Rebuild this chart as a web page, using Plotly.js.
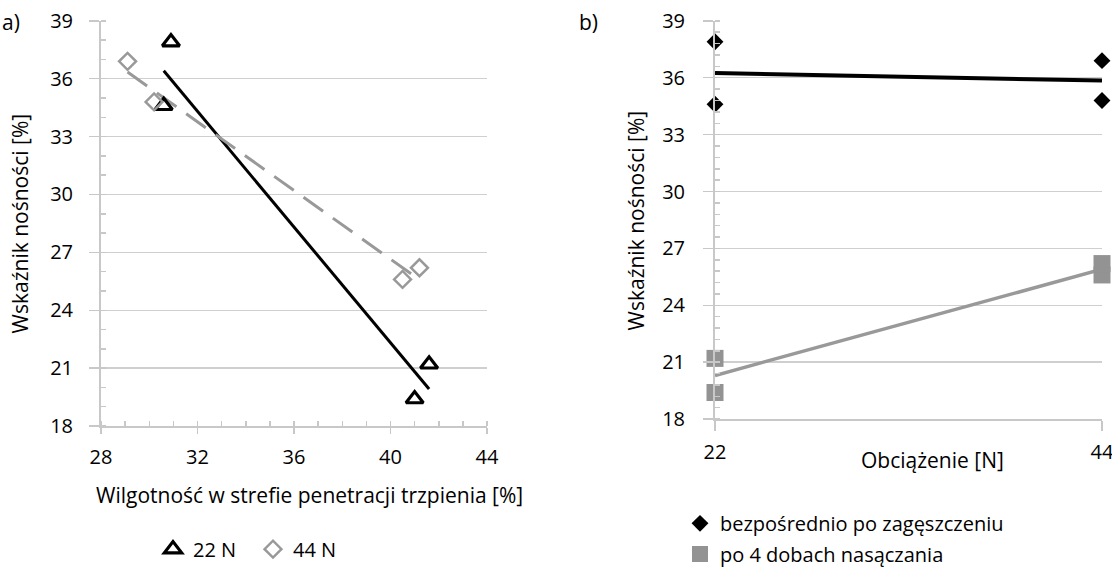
<!DOCTYPE html>
<html>
<head>
<meta charset="utf-8">
<script src="https://cdn.plot.ly/plotly-3.0.1.min.js"></script>
<style>html,body{margin:0;padding:0;background:#fff}#chart{width:1112px;height:574px}</style>
</head>
<body>
<div id="chart"></div>
<script>
// ---- Data ----
// Panel a): CBR vs moisture in the penetration zone
const moisture22 = [30.9, 30.6, 41.6, 41.0];
const cbr22 = [37.9, 34.6, 21.2, 19.4];
const moisture44 = [29.1, 30.2, 40.5, 41.2];
const cbr44 = [36.9, 34.8, 25.6, 26.2];
// Panel b): CBR vs load
const load = [22, 22, 44, 44];
const cbrDirect = [37.9, 34.6, 36.9, 34.8];
const cbrSoaked = [21.2, 19.4, 25.6, 26.2];
const loadTicks = [22, 44];

const labelA = 'a)', labelB = 'b)';
const yTitle = 'Wskaźnik nośności [%]';
const xTitleA = 'Wilgotność w strefie penetracji trzpienia [%]';
const xTitleB = 'Obciążenie [N]';
const name22 = '22 N', name44 = '44 N';
const nameDirect = 'bezpośrednio po zagęszczeniu';
const nameSoaked = 'po 4 dobach nasączania';

// least squares linear trendline over data extent
function trend(x, y) {
  const n = x.length;
  const mx = x.reduce((a, b) => a + b, 0) / n;
  const my = y.reduce((a, b) => a + b, 0) / n;
  let sxy = 0, sxx = 0;
  for (let i = 0; i < n; i++) { sxy += (x[i] - mx) * (y[i] - my); sxx += (x[i] - mx) ** 2; }
  const b = sxy / sxx, a = my - b * mx;
  const x0 = Math.min(...x), x1 = Math.max(...x);
  return { x: [x0, x1], y: [a + b * x0, a + b * x1] };
}

const W = 1112, H = 574;
const px = v => v / W, py = v => 1 - v / H;

const FONT = 'Open Sans, Noto Sans, sans-serif';
const GRID = '#cfcfcf';
const GRAY = '#999999';
const SQ = '#939393';
const TICK = 20, TITLE = 21, LEG = 20;

const t22 = trend(moisture22, cbr22);
const t44 = trend(moisture44, cbr44);
const tD = trend(load, cbrDirect);
const tS = trend(load, cbrSoaked);

const traces = [
  { x: t22.x, y: t22.y, xaxis: 'x', yaxis: 'y', mode: 'lines', line: { color: '#000', width: 3 }, showlegend: false, hoverinfo: 'skip' },
  { x: t44.x, y: t44.y, xaxis: 'x', yaxis: 'y', mode: 'lines', line: { color: GRAY, width: 3, dash: '24px,12px' }, showlegend: false, hoverinfo: 'skip' },
  { x: moisture22, y: cbr22, xaxis: 'x', yaxis: 'y', mode: 'markers', name: name22, legend: 'legend',
    marker: { symbol: 'triangle-up-open', size: 15, color: '#000', line: { color: '#000', width: 3.2 } }, cliponaxis: false },
  { x: moisture44, y: cbr44, xaxis: 'x', yaxis: 'y', mode: 'markers', name: name44, legend: 'legend4',
    marker: { symbol: 'diamond-open', size: 13, color: GRAY, line: { color: GRAY, width: 2.5 } }, cliponaxis: false },

  { x: tD.x, y: tD.y, xaxis: 'x2', yaxis: 'y2', mode: 'lines', line: { color: '#000', width: 4 }, showlegend: false, hoverinfo: 'skip' },
  { x: tS.x, y: tS.y, xaxis: 'x2', yaxis: 'y2', mode: 'lines', line: { color: GRAY, width: 3.5 }, showlegend: false, hoverinfo: 'skip' },
  { x: load, y: cbrDirect, xaxis: 'x2', yaxis: 'y2', mode: 'markers', name: nameDirect, legend: 'legend2',
    marker: { symbol: 'diamond', size: 13, color: '#000' }, cliponaxis: false },
  { x: load, y: cbrSoaked, xaxis: 'x2', yaxis: 'y2', mode: 'markers', name: nameSoaked, legend: 'legend3',
    marker: { symbol: 'square', size: 17, color: SQ }, cliponaxis: false }
];

const axisCommon = {
  showline: true, linecolor: '#c8c8c8', linewidth: 2, zeroline: false,
  tickcolor: '#c8c8c8', tickwidth: 1.5, ticklabeloverflow: 'allow',
  tickfont: { family: FONT, size: TICK, color: '#000' }
};

const legendCommon = {
  bgcolor: 'rgba(0,0,0,0)', borderwidth: 0, font: { family: FONT, size: LEG, color: '#000' },
  xanchor: 'left', yanchor: 'middle', orientation: 'h', itemclick: false, itemdoubleclick: false
};

const layout = {
  width: W, height: H,
  margin: { l: 0, r: 0, t: 0, b: 0 },
  paper_bgcolor: '#fff', plot_bgcolor: '#fff',
  font: { family: FONT, size: TITLE, color: '#000' },
  xaxis: Object.assign({}, axisCommon, {
    domain: [px(101), px(487)], anchor: 'y', range: [28, 44], tick0: 28, dtick: 4,
    ticks: 'outside', ticklen: 6, showgrid: false, ticklabelstandoff: 6,
    minor: { dtick: 1, ticks: 'inside', ticklen: 5, tickcolor: '#c8c8c8', tickwidth: 1.5, showgrid: false }
  }),
  yaxis: Object.assign({}, axisCommon, {
    domain: [py(429), py(21)], anchor: 'x', range: [18, 39], tick0: 18, dtick: 3,
    ticks: 'outside', ticklen: 10, showgrid: true, gridcolor: GRID, gridwidth: 1.5, ticklabelstandoff: 12,
    minor: { dtick: 1, ticks: 'inside', ticklen: 5, tickcolor: '#c8c8c8', tickwidth: 1.5, showgrid: false }
  }),
  xaxis2: Object.assign({}, axisCommon, {
    domain: [px(715), px(1102)], anchor: 'y2', range: [22, 44], tickvals: loadTicks, ticktext: loadTicks.map(String),
    ticks: 'outside', ticklen: 10, showgrid: false, ticklabelstandoff: 4
  }),
  yaxis2: Object.assign({}, axisCommon, {
    domain: [py(422), py(21)], anchor: 'x2', range: [18, 39], tick0: 18, dtick: 3,
    ticks: 'outside', ticklen: 10, showgrid: true, gridcolor: GRID, gridwidth: 1.5, ticklabelstandoff: 14,
    minor: { dtick: 0.6, ticks: 'inside', ticklen: 5, tickcolor: '#c8c8c8', tickwidth: 1.5, showgrid: false }
  }),
  legend: Object.assign({}, legendCommon, { x: px(153), y: py(553) }),
  legend4: Object.assign({}, legendCommon, { x: px(253), y: py(553) }),
  legend2: Object.assign({}, legendCommon, { x: px(680), y: py(527) }),
  legend3: Object.assign({}, legendCommon, { x: px(680), y: py(558) }),
  annotations: [
    { text: labelA, xref: 'paper', yref: 'paper', x: 0, y: py(22), xanchor: 'left', yanchor: 'middle', showarrow: false, font: { family: FONT, size: TITLE } },
    { text: labelB, xref: 'paper', yref: 'paper', x: px(588), y: py(22), xanchor: 'center', yanchor: 'middle', showarrow: false, font: { family: FONT, size: TITLE } },
    { text: yTitle, xref: 'paper', yref: 'paper', x: px(20), y: py(225), xanchor: 'center', yanchor: 'middle', textangle: -90, showarrow: false, font: { family: FONT, size: TITLE } },
    { text: yTitle, xref: 'paper', yref: 'paper', x: px(636), y: py(222), xanchor: 'center', yanchor: 'middle', textangle: -90, showarrow: false, font: { family: FONT, size: TITLE } },
    { text: xTitleA, xref: 'paper', yref: 'paper', x: px(309), y: py(498), xanchor: 'center', yanchor: 'middle', showarrow: false, font: { family: FONT, size: TITLE } },
    { text: xTitleB, xref: 'paper', yref: 'paper', x: px(932), y: py(463), xanchor: 'center', yanchor: 'middle', showarrow: false, font: { family: FONT, size: TITLE } }
  ]
};

Plotly.newPlot('chart', traces, layout, { staticPlot: true, displayModeBar: false });
</script>
</body>
</html>
